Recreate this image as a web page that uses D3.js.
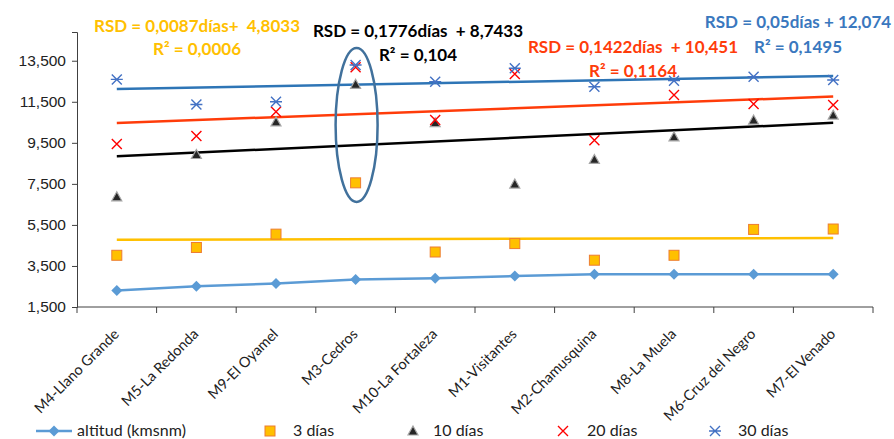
<!DOCTYPE html>
<html>
<head>
<meta charset="utf-8">
<script src="https://cdn.jsdelivr.net/npm/d3@7"></script>
<style>
  body { margin: 0; background: #fff; }
  svg { font-family: Lato, "Open Sans", sans-serif; }
  text { white-space: pre; }
</style>
</head>
<body>
<svg id="chart" width="894" height="439"></svg>
<script>
// categories (stations)
const estaciones = ["M4-Llano Grande", "M5-La Redonda", "M9-El Oyamel", "M3-Cedros", "M10-La Fortaleza",
  "M1-Visitantes", "M2-Chamusquina", "M8-La Muela", "M6-Cruz del Negro", "M7-El Venado"];

// series values
const altitud = [2.31, 2.51, 2.64, 2.84, 2.90, 3.01, 3.09, 3.09, 3.09, 3.09];
const dias3 = [4.02, 4.40, 5.05, 7.55, 4.18, 4.59, 3.78, 4.02, 5.28, 5.30];
const dias10 = [6.87, 8.93, 10.52, 12.35, 10.48, 7.49, 8.69, 9.79, 10.61, 10.85];
const dias20 = [9.44, 9.83, 11.01, 13.18, 10.61, 12.85, 9.63, 11.83, 11.39, 11.34];
const dias30 = [12.59, 11.37, 11.50, 13.29, 12.48, 13.13, 12.23, 12.53, 12.72, 12.56];

// y ticks
const yTicks = [1.5, 3.5, 5.5, 7.5, 9.5, 11.5, 13.5];

// trendline labels
const eq3 = ["RSD = 0,0087días+  4,8033", "R² = 0,0006"];
const eq10 = ["RSD = 0,1776días  + 8,7433", "R² = 0,104"];
const eq20 = ["RSD = 0,1422días  + 10,451", "R² = 0,1164"];
const eq30 = ["RSD = 0,05días + 12,074", "R² = 0,1495"];

const legendNames = ["altitud (kmsnm)", "3 días", "10 días", "20 días", "30 días"];

const svg = d3.select("#chart");

const x = d3.scaleBand().domain(estaciones).range([77, 873]);
const y = d3.scaleLinear().domain([1.5, 14.9]).range([307, 32]);
const cx = d => x(d) + x.bandwidth() / 2;

// comma decimal format
const fmt = v => d3.format(".3f")(v).replace(".", ",");

// equation texts (drawn below the lines)
function eqText(lines, color, x0, y0, y1) {
  svg.append("text").attr("x", x0).attr("y", y0).attr("text-anchor", "middle")
    .attr("fill", color).style("font-weight", "bold").style("font-size", "17px").text(lines[0]);
  svg.append("text").attr("x", x0).attr("y", y1).attr("text-anchor", "middle")
    .attr("fill", color).style("font-weight", "bold").style("font-size", "17px").text(lines[1]);
}
eqText(eq3, "#FFC000", 197, 32, 55);
eqText(eq10, "#000000", 418, 37, 61);
eqText(eq20, "#FF3C0A", 633, 53, 77);
eqText(eq30, "#3A78BE", 798, 28, 53);

// axes
const yAxis = svg.append("g").attr("transform", "translate(77,0)")
  .call(d3.axisLeft(y).tickValues(yTicks).tickFormat(fmt).tickSizeOuter(0).tickSize(5));
yAxis.select(".domain").attr("stroke", "#404040");
yAxis.selectAll(".tick line").attr("stroke", "#404040");
yAxis.selectAll("text").style("font-size", "15.5px").attr("fill", "#222").attr("dx", "-3");

const xAxis = svg.append("g").attr("transform", "translate(0,307)");
xAxis.append("line").attr("x1", 77).attr("x2", 873).attr("stroke", "#404040");
xAxis.selectAll(".tk").data(estaciones.concat(["end"])).enter().append("line")
  .attr("x1", (d, i) => i < estaciones.length ? x(d) : x.range()[1])
  .attr("x2", (d, i) => i < estaciones.length ? x(d) : x.range()[1])
  .attr("y1", 0).attr("y2", 6).attr("stroke", "#404040");
xAxis.selectAll(".lbl").data(estaciones).enter().append("text")
  .attr("transform", d => `translate(${cx(d) + 3},${28}) rotate(-45)`)
  .attr("text-anchor", "end").style("font-size", "14.5px").attr("fill", "#222").text(d => d);

// least squares trend on index 1..n
function trend(vals) {
  const n = vals.length;
  const xs = d3.range(1, n + 1);
  const mx = d3.mean(xs), my = d3.mean(vals);
  let sxy = 0, sxx = 0;
  xs.forEach((xi, i) => { sxy += (xi - mx) * (vals[i] - my); sxx += (xi - mx) * (xi - mx); });
  const b = sxy / sxx, a = my - b * mx;
  return [a + b * 1, a + b * n];
}
function drawTrend(vals, color) {
  const t = trend(vals);
  svg.append("line")
    .attr("x1", cx(estaciones[0])).attr("y1", y(t[0]))
    .attr("x2", cx(estaciones[estaciones.length - 1])).attr("y2", y(t[1]))
    .attr("stroke", color).attr("stroke-width", 2.5);
}
drawTrend(dias30, "#2E75B6");
drawTrend(dias20, "#FF3C0A");
drawTrend(dias10, "#000000");
drawTrend(dias3, "#FFC000");

// altitude line
svg.append("path").datum(altitud)
  .attr("d", d3.line().x((d, i) => cx(estaciones[i])).y(d => y(d)))
  .attr("fill", "none").attr("stroke", "#5B9BD5").attr("stroke-width", 2.5);

// marker helpers
function diamond(g, px, py) {
  g.append("path").attr("d", `M${px},${py - 5.5}L${px + 5.5},${py}L${px},${py + 5.5}L${px - 5.5},${py}Z`)
    .attr("fill", "#5B9BD5");
}
function square(g, px, py) {
  g.append("rect").attr("x", px - 5).attr("y", py - 5).attr("width", 10).attr("height", 10)
    .attr("fill", "#FFC000").attr("stroke", "#ED7D31").attr("stroke-width", 1);
}
function triangle(g, px, py) {
  g.append("path").attr("d", `M${px},${py - 5}L${px + 5},${py + 4}L${px - 5},${py + 4}Z`)
    .attr("fill", "#262626").attr("stroke", "#A6A6A6").attr("stroke-width", 1.2);
}
function cross(g, px, py) {
  g.append("path").attr("d", `M${px - 5},${py - 5}L${px + 5},${py + 5}M${px + 5},${py - 5}L${px - 5},${py + 5}`)
    .attr("stroke", "#FF0000").attr("stroke-width", 1.4);
}
function star(g, px, py) {
  g.append("path").attr("d", `M${px - 5},${py - 5}L${px + 5},${py + 5}M${px + 5},${py - 5}L${px - 5},${py + 5}M${px - 6},${py}L${px + 6},${py}`)
    .attr("stroke", "#4472C4").attr("stroke-width", 1.4);
}

const mk = svg.append("g");
altitud.forEach((v, i) => diamond(mk, cx(estaciones[i]), y(v)));
dias3.forEach((v, i) => square(mk, cx(estaciones[i]), y(v)));
dias10.forEach((v, i) => triangle(mk, cx(estaciones[i]), y(v)));
dias20.forEach((v, i) => cross(mk, cx(estaciones[i]), y(v)));
dias30.forEach((v, i) => star(mk, cx(estaciones[i]), y(v)));

// ellipse around M3-Cedros
svg.append("ellipse")
  .attr("cx", cx("M3-Cedros") + 1).attr("cy", (y(14.12) + y(6.62)) / 2)
  .attr("rx", 21).attr("ry", (y(6.62) - y(14.12)) / 2)
  .attr("fill", "none").attr("stroke", "#41719C").attr("stroke-width", 2.5);

// legend
const ly = 431;
const leg = svg.append("g");
leg.append("line").attr("x1", 36).attr("x2", 72).attr("y1", ly).attr("y2", ly)
  .attr("stroke", "#5B9BD5").attr("stroke-width", 2.5);
diamond(leg, 54, ly);
square(leg, 270, ly);
triangle(leg, 413, ly);
cross(leg, 563, ly);
star(leg, 715, ly);
const legX = [77, 293, 433, 587, 738];
legendNames.forEach((n, i) => {
  const t = leg.append("text").attr("x", legX[i]).attr("y", ly + 5).style("font-size", "16px")
    .attr("fill", "#222").text(n);
  if (i === 0) t.attr("textLength", 109).attr("lengthAdjust", "spacing");
});
</script>
</body>
</html>
